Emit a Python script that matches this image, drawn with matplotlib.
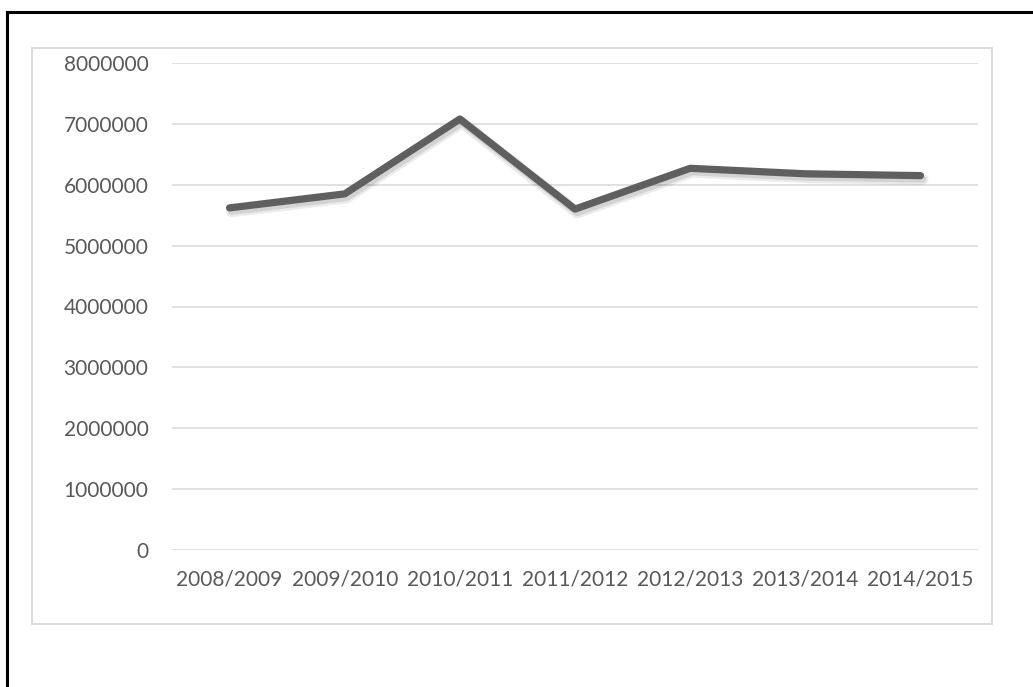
import matplotlib
matplotlib.use("Agg")
from matplotlib import pyplot as plt
from matplotlib import patheffects as pe
from matplotlib.patches import Rectangle
from matplotlib.lines import Line2D

W, H = 1033, 687

seasons = ["2008/2009", "2009/2010", "2010/2011", "2011/2012",
           "2012/2013", "2013/2014", "2014/2015"]
values = [5620000, 5850000, 7080000, 5600000, 6270000, 6180000, 6150000]
y_ticks = [0, 1000000, 2000000, 3000000, 4000000, 5000000, 6000000, 7000000, 8000000]

text_color = "#595959"
grid_color = "#d9d9d9"

plt.rcParams["font.family"] = ["Lato", "DejaVu Sans"]

fig = plt.figure(figsize=(W / 100, H / 100), dpi=100)


def px(x0, y0, x1, y1):
    # pixel box (top-left origin) -> figure fraction rect
    return [x0 / W, 1 - y1 / H, (x1 - x0) / W, (y1 - y0) / H]


# outer black frame (top and left only)
fig.add_artist(Line2D([7 / W, 1], [1 - 12 / H, 1 - 12 / H], color="black", lw=2.2,
                      transform=fig.transFigure, zorder=-2))
fig.add_artist(Line2D([7 / W, 7 / W], [0, 1 - 12 / H], color="black", lw=2.2,
                      transform=fig.transFigure, zorder=-2))

# chart area box
r = px(32, 48, 992, 624)
fig.add_artist(Rectangle((r[0], r[1]), r[2], r[3], transform=fig.transFigure,
                         facecolor="white", edgecolor=grid_color, lw=1.3, zorder=-1))

ax = fig.add_axes(px(172, 63, 978, 550))
ax.set_zorder(1)
x = list(range(len(seasons)))
# soft drop shadow, roughly like the office chart style
shadow = [pe.SimpleLineShadow(offset=(1.5, -2.5), shadow_color="#000000", alpha=0.08,
                              linewidth=8.5),
          pe.SimpleLineShadow(offset=(1.5, -2.5), shadow_color="#000000", alpha=0.1),
          pe.Normal()]
ax.plot(x, values, color="#5f5f5f", lw=5.2, solid_capstyle="round", solid_joinstyle="round",
        path_effects=shadow, zorder=3)

ax.set_xlim(-0.5, len(seasons) - 0.5)
ax.set_ylim(0, 8000000)
ax.set_yticks(y_ticks)
ax.set_yticklabels([str(v) for v in y_ticks])
ax.set_xticks(x)
ax.set_xticklabels(seasons)
ax.grid(axis="y", color=grid_color, lw=1.1)
ax.set_axisbelow(True)
for s in ax.spines.values():
    s.set_visible(False)
ax.tick_params(axis="y", length=0, pad=17, labelsize=15, labelcolor=text_color)
ax.tick_params(axis="x", length=0, pad=14, labelsize=15, labelcolor=text_color)
ax.patch.set_alpha(0)

fig.savefig("out.png", dpi=100)
